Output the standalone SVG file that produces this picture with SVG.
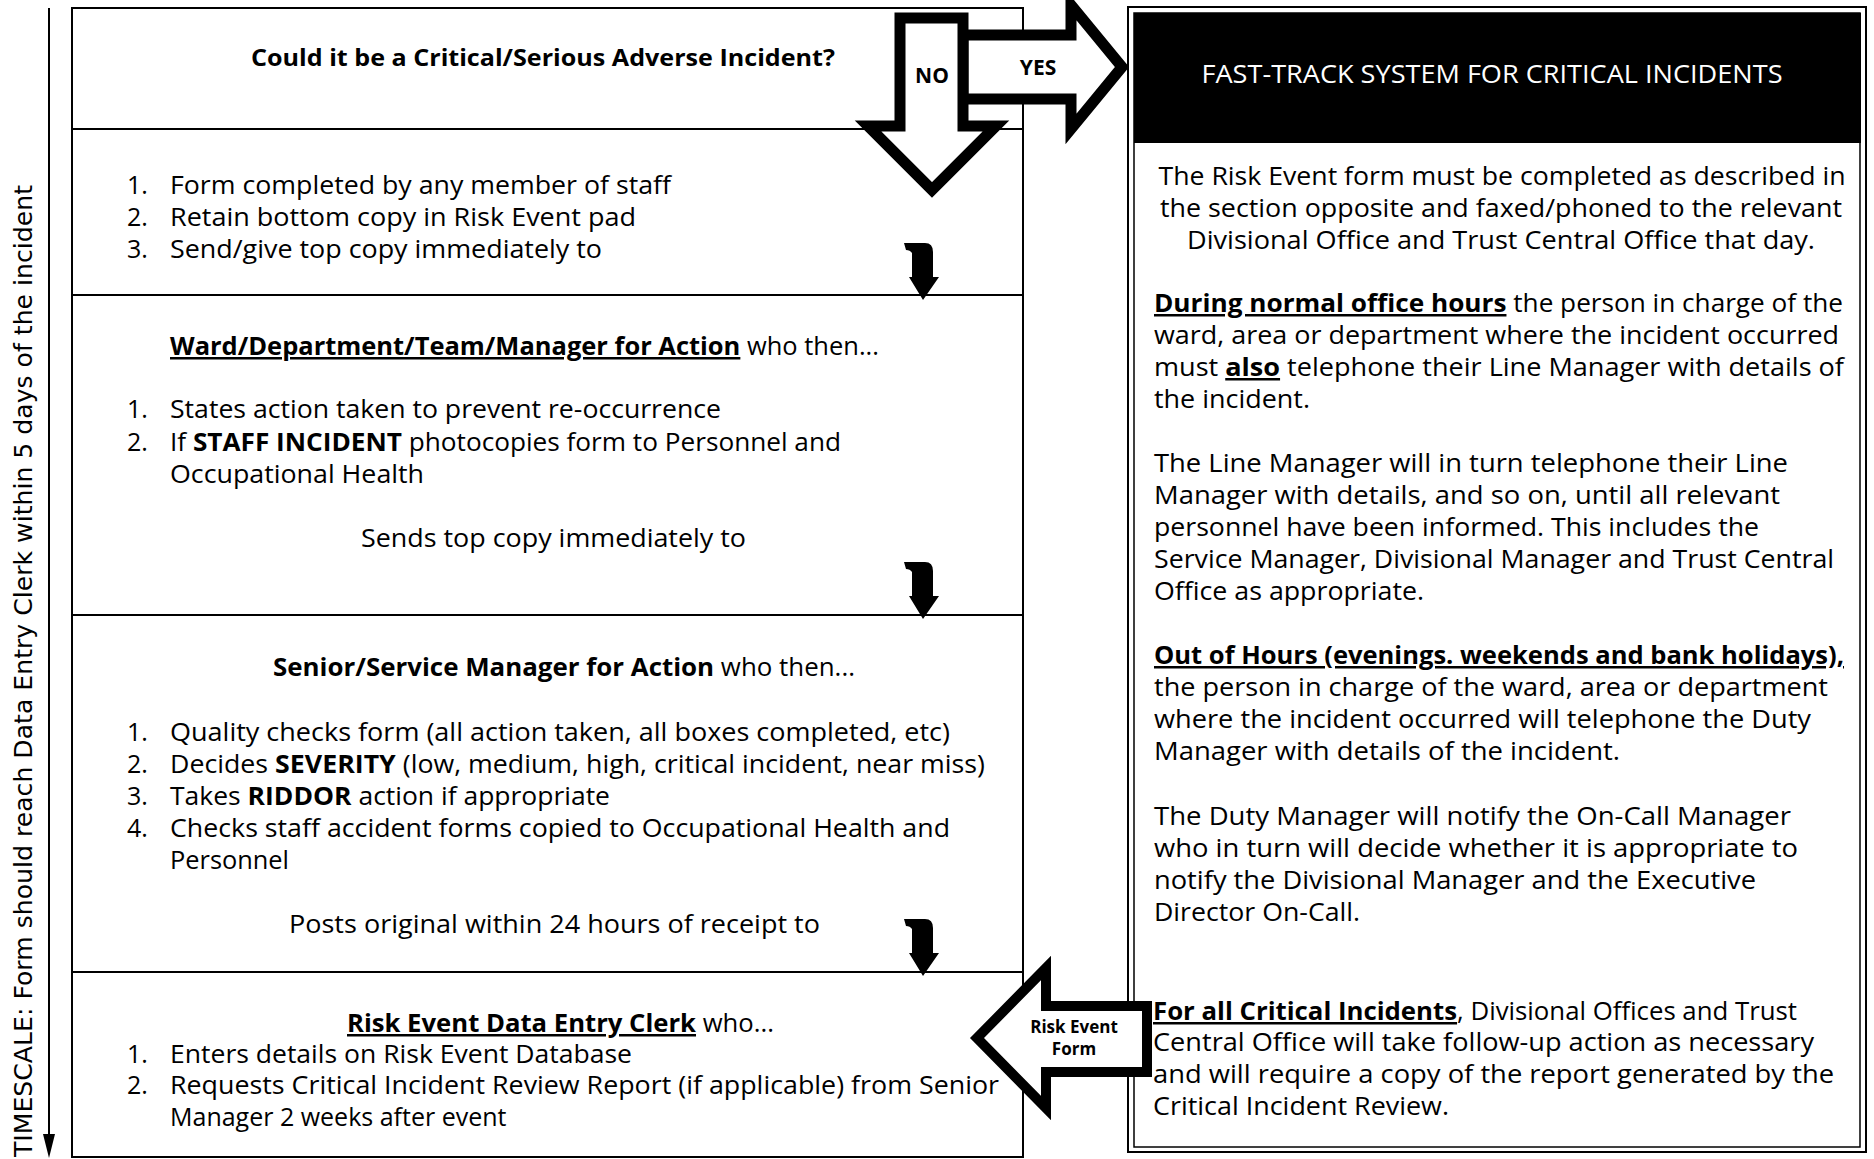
<svg xmlns="http://www.w3.org/2000/svg" width="1874" height="1159" viewBox="0 0 1874 1159">
<style>
.t{font-family:"Open Sans","Noto Sans",sans-serif;font-size:25px;fill:#000}
.b{font-weight:bold}
.u{text-decoration:underline}
.c{text-anchor:middle}
.q{font-size:23px}
.lbl{font-size:21px}
.sm{font-size:17px}
.w{fill:#fff}
.box{fill:#fff;stroke:#000;stroke-width:2}
.big{fill:#fff;stroke:#000;stroke-width:11;stroke-linejoin:miter;stroke-miterlimit:10}
.ts{font-family:"DejaVu Sans",Verdana,sans-serif;font-size:24px;fill:#000}
</style>
<defs>
<path id="sa" d="M-19,-57 L2,-57 Q10,-57 10,-48 L10,-23 L16,-23 L0,0 L-14,-23 L-11,-23 L-11,-47 Q-13,-50 -17,-50 Z" fill="#000"/>
</defs>
<rect width="1874" height="1159" fill="#fff"/>

<g id="timescale">
<line x1="49" y1="8" x2="49" y2="1140" stroke="#000" stroke-width="2"/>
<polygon points="43,1134 55,1134 49,1158" fill="#000"/>
<text class="ts" transform="translate(32,1157) rotate(-90)" textLength="972" lengthAdjust="spacingAndGlyphs">TIMESCALE: Form should reach Data Entry Clerk within 5 days of the incident</text>
</g>

<g id="q-critical">
<rect class="box" x="72" y="8" width="951" height="121"/>
<text class="t b c q" x="543" y="66" textLength="584" lengthAdjust="spacingAndGlyphs">Could it be a Critical/Serious Adverse Incident?</text>
</g>

<g id="step-form">
<rect class="box" x="72" y="129" width="951" height="166"/>
<text class="t" x="127" y="194">1.</text>
<text class="t" x="170" y="194" textLength="501" lengthAdjust="spacingAndGlyphs">Form completed by any member of staff</text>
<text class="t" x="127" y="226">2.</text>
<text class="t" x="170" y="226" textLength="466" lengthAdjust="spacingAndGlyphs">Retain bottom copy in Risk Event pad</text>
<text class="t" x="127" y="258">3.</text>
<text class="t" x="170" y="258" textLength="432" lengthAdjust="spacingAndGlyphs">Send/give top copy immediately to</text>
</g>

<g id="step-ward">
<rect class="box" x="72" y="295" width="951" height="320"/>
<text class="t" x="170" y="355" textLength="709" lengthAdjust="spacingAndGlyphs"><tspan class="b u">Ward/Department/Team/Manager for Action</tspan> who then...</text>
<text class="t" x="127" y="418">1.</text>
<text class="t" x="170" y="418" textLength="551" lengthAdjust="spacingAndGlyphs">States action taken to prevent re-occurrence</text>
<text class="t" x="127" y="451">2.</text>
<text class="t" x="170" y="451" textLength="671" lengthAdjust="spacingAndGlyphs">If <tspan class="b">STAFF INCIDENT</tspan> photocopies form to Personnel and</text>
<text class="t" x="170" y="483" textLength="254" lengthAdjust="spacingAndGlyphs">Occupational Health</text>
<text class="t" x="361" y="547" textLength="385" lengthAdjust="spacingAndGlyphs">Sends top copy immediately to</text>
</g>

<g id="step-senior">
<rect class="box" x="72" y="615" width="951" height="357"/>
<text class="t" x="273" y="676" textLength="582" lengthAdjust="spacingAndGlyphs"><tspan class="b">Senior/Service Manager for Action</tspan> who then...</text>
<text class="t" x="127" y="741">1.</text>
<text class="t" x="170" y="741" textLength="780" lengthAdjust="spacingAndGlyphs">Quality checks form (all action taken, all boxes completed, etc)</text>
<text class="t" x="127" y="773">2.</text>
<text class="t" x="170" y="773" textLength="815" lengthAdjust="spacingAndGlyphs">Decides <tspan class="b">SEVERITY</tspan> (low, medium, high, critical incident, near miss)</text>
<text class="t" x="127" y="805">3.</text>
<text class="t" x="170" y="805" textLength="440" lengthAdjust="spacingAndGlyphs">Takes <tspan class="b">RIDDOR</tspan> action if appropriate</text>
<text class="t" x="127" y="837">4.</text>
<text class="t" x="170" y="837" textLength="780" lengthAdjust="spacingAndGlyphs">Checks staff accident forms copied to Occupational Health and</text>
<text class="t" x="170" y="869" textLength="119" lengthAdjust="spacingAndGlyphs">Personnel</text>
<text class="t" x="289" y="933" textLength="531" lengthAdjust="spacingAndGlyphs">Posts original within 24 hours of receipt to</text>
</g>

<g id="step-clerk">
<rect class="box" x="72" y="972" width="951" height="185"/>
<text class="t" x="347" y="1032" textLength="427" lengthAdjust="spacingAndGlyphs"><tspan class="b u">Risk Event Data Entry Clerk</tspan> who...</text>
<text class="t" x="127" y="1063">1.</text>
<text class="t" x="170" y="1063" textLength="462" lengthAdjust="spacingAndGlyphs">Enters details on Risk Event Database</text>
<text class="t" x="127" y="1094">2.</text>
<text class="t" x="170" y="1094" textLength="829" lengthAdjust="spacingAndGlyphs">Requests Critical Incident Review Report (if applicable) from Senior</text>
<text class="t" x="170" y="1126">Manager 2 weeks after event</text>
</g>

<g id="fast-track">
<rect x="1128" y="7" width="738" height="1145" fill="#fff" stroke="#000" stroke-width="2"/>
<rect x="1134" y="13" width="726" height="1134" fill="none" stroke="#000" stroke-width="1.5"/>
<rect x="1134" y="13" width="727" height="130" fill="#000"/>
<text class="t c w" x="1492" y="83" textLength="581" lengthAdjust="spacingAndGlyphs">FAST-TRACK SYSTEM FOR CRITICAL INCIDENTS</text>
<text class="t c" x="1502" y="185" textLength="687" lengthAdjust="spacingAndGlyphs">The Risk Event form must be completed as described in</text>
<text class="t c" x="1501" y="217" textLength="682" lengthAdjust="spacingAndGlyphs">the section opposite and faxed/phoned to the relevant</text>
<text class="t c" x="1501" y="249" textLength="628" lengthAdjust="spacingAndGlyphs">Divisional Office and Trust Central Office that day.</text>

<text class="t" x="1154" y="312" textLength="689" lengthAdjust="spacingAndGlyphs"><tspan class="b u">During normal office hours</tspan> the person in charge of the</text>
<text class="t" x="1154" y="344" textLength="685" lengthAdjust="spacingAndGlyphs">ward, area or department where the incident occurred</text>
<text class="t" x="1154" y="376" textLength="690" lengthAdjust="spacingAndGlyphs">must <tspan class="b u">also</tspan> telephone their Line Manager with details of</text>
<text class="t" x="1154" y="408" textLength="156" lengthAdjust="spacingAndGlyphs">the incident.</text>

<text class="t" x="1154" y="472" textLength="634" lengthAdjust="spacingAndGlyphs">The Line Manager will in turn telephone their Line</text>
<text class="t" x="1154" y="504" textLength="626" lengthAdjust="spacingAndGlyphs">Manager with details, and so on, until all relevant</text>
<text class="t" x="1154" y="536" textLength="605" lengthAdjust="spacingAndGlyphs">personnel have been informed. This includes the</text>
<text class="t" x="1154" y="568" textLength="680" lengthAdjust="spacingAndGlyphs">Service Manager, Divisional Manager and Trust Central</text>
<text class="t" x="1154" y="600" textLength="270" lengthAdjust="spacingAndGlyphs">Office as appropriate.</text>

<text class="t b u" x="1154" y="664" textLength="690" lengthAdjust="spacingAndGlyphs">Out of Hours (evenings. weekends and bank holidays),</text>
<text class="t" x="1154" y="696" textLength="674" lengthAdjust="spacingAndGlyphs">the person in charge of the ward, area or department</text>
<text class="t" x="1154" y="728" textLength="657" lengthAdjust="spacingAndGlyphs">where the incident occurred will telephone the Duty</text>
<text class="t" x="1154" y="760" textLength="466" lengthAdjust="spacingAndGlyphs">Manager with details of the incident.</text>

<text class="t" x="1154" y="825" textLength="637" lengthAdjust="spacingAndGlyphs">The Duty Manager will notify the On-Call Manager</text>
<text class="t" x="1154" y="857" textLength="644" lengthAdjust="spacingAndGlyphs">who in turn will decide whether it is appropriate to</text>
<text class="t" x="1154" y="889" textLength="602" lengthAdjust="spacingAndGlyphs">notify the Divisional Manager and the Executive</text>
<text class="t" x="1154" y="921" textLength="206" lengthAdjust="spacingAndGlyphs">Director On-Call.</text>

<text class="t" x="1153" y="1020" textLength="644" lengthAdjust="spacingAndGlyphs"><tspan class="b u">For all Critical Incidents</tspan>, Divisional Offices and Trust</text>
<text class="t" x="1153" y="1051" textLength="661" lengthAdjust="spacingAndGlyphs">Central Office will take follow-up action as necessary</text>
<text class="t" x="1153" y="1083" textLength="681" lengthAdjust="spacingAndGlyphs">and will require a copy of the report generated by the</text>
<text class="t" x="1153" y="1115" textLength="296" lengthAdjust="spacingAndGlyphs">Critical Incident Review.</text>
</g>

<g id="connectors">
<polygon class="big" points="963,35 1071,35 1071,5 1122,67 1071,129 1071,99 963,99"/>
<polygon class="big" points="900,18 963,18 963,126 996,126 932,190 868,126 900,126"/>
<text class="t b c lbl" x="932" y="83">NO</text>
<text class="t b c lbl" x="1038" y="75">YES</text>
<use href="#sa" transform="translate(923,300)"/>
<use href="#sa" transform="translate(923,619)"/>
<use href="#sa" transform="translate(923,976)"/>
<polygon class="big" style="stroke-width:10" points="977,1038 1046,968 1046,1006 1147,1006 1147,1072 1046,1072 1046,1108"/>
<text class="t b c sm" x="1074" y="1033">Risk Event</text>
<text class="t b c sm" x="1074" y="1055">Form</text>
</g>
</svg>
